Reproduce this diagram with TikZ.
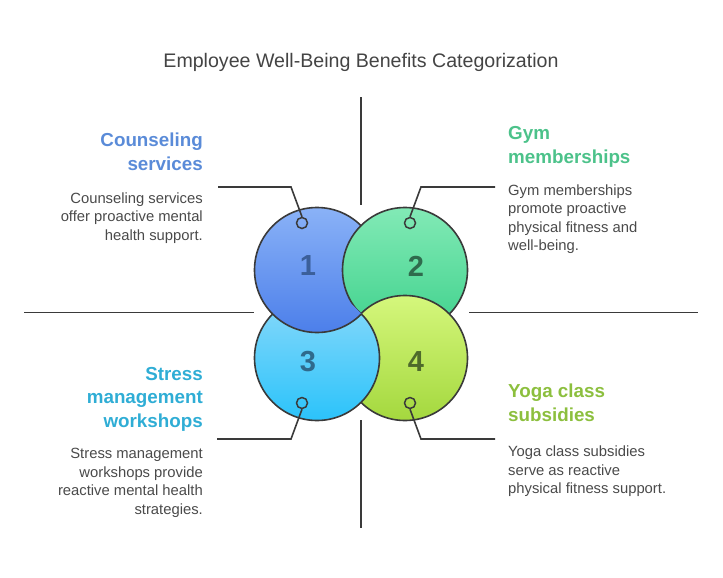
\documentclass[tikz,border=0pt]{standalone}
\usepackage{fontspec}
\setmainfont{Liberation Sans}
\definecolor{linec}{HTML}{3A3A3A}
\definecolor{titlec}{HTML}{444444}
\definecolor{descc}{HTML}{4A4A4A}
\definecolor{oneT}{HTML}{8AB2F7}\definecolor{oneB}{HTML}{4C7FEA}
\definecolor{twoT}{HTML}{82EAB6}\definecolor{twoB}{HTML}{3FD18C}
\definecolor{thrT}{HTML}{8AD9FA}\definecolor{thrB}{HTML}{2BC3FA}
\definecolor{fouT}{HTML}{D5F77C}\definecolor{fouB}{HTML}{A4D83E}
\definecolor{oneN}{HTML}{3B5F9A}\definecolor{twoN}{HTML}{2F6B4D}
\definecolor{thrN}{HTML}{2F6A8C}\definecolor{fouN}{HTML}{4E6A2B}
\definecolor{oneH}{HTML}{5A8BD8}\definecolor{twoH}{HTML}{4CC28A}
\definecolor{thrH}{HTML}{2FADD5}\definecolor{fouH}{HTML}{8CBF3E}
\begin{document}
\begin{tikzpicture}[x=1pt,y=-1pt,
  conn/.style={draw=linec,line width=1.6pt},
  bord/.style={draw=linec,line width=1.6pt},
  marker/.style={circle,draw=linec,line width=1.5pt,minimum size=11pt,inner sep=0pt},
  num/.style={font=\fontsize{29}{29}\selectfont\bfseries},
  head/.style={font=\fontsize{18.8}{23.5}\selectfont\bfseries,inner sep=0pt},
  desc/.style={font=\fontsize{14.8}{18.5}\selectfont,text=descc,inner sep=0pt}]
\useasboundingbox (0,0) rectangle (723,578);
% title
\node[anchor=base,font=\fontsize{19.6}{23}\selectfont,text=titlec,inner sep=0pt] (title) at (361,68) {Employee Well-Being Benefits Categorization};
% axes
\coordinate (vt1) at (361,97); \coordinate (vt2) at (361,205);
\coordinate (vb1) at (361,420); \coordinate (vb2) at (361,528);
\coordinate (hl1) at (24,312.5); \coordinate (hl2) at (254,312.5);
\coordinate (hr1) at (469,312.5); \coordinate (hr2) at (698,312.5);
\draw[conn] (vt1) -- (vt2);
\draw[conn] (vb1) -- (vb2);
\draw[conn] (hl1) -- (hl2);
\draw[conn] (hr1) -- (hr2);
% circles
\def\R{62.5}
\coordinate (c1) at (317,270);
\coordinate (c2) at (405,270);
\coordinate (c3) at (317,358);
\coordinate (c4) at (405,358);
\path[top color=oneT,bottom color=oneB,bord] (c1) circle (\R);
\path[top color=twoT,bottom color=twoB,bord] (c2) circle (\R);
\path[top color=fouT,bottom color=fouB,bord] (c4) circle (\R);
\path[top color=thrT,bottom color=thrB,bord] (c3) circle (\R);
\begin{scope}
  \clip (c3) circle (\R+2.5);
  \clip (200,152.5) -- (420,372.5) -- (200,372.5) -- cycle;
  \path[top color=oneT,bottom color=oneB,bord] (c1) circle (\R);
\end{scope}
% numbers
\node[num,text=oneN] (n1) at (308,266) {1};
\node[num,text=twoN] (n2) at (416,266) {2};
\node[num,text=thrN] (n3) at (308,361.5) {3};
\node[num,text=fouN] (n4) at (416,361.5) {4};
% markers
\node[marker] (m1) at (302,223) {};
\node[marker] (m2) at (410,223) {};
\node[marker] (m3) at (302,403) {};
\node[marker] (m4) at (410,403) {};
\coordinate (k1) at (291,187); \coordinate (e1) at (218,187);
\coordinate (k2) at (421,187); \coordinate (e2) at (495,187);
\coordinate (k3) at (291,439); \coordinate (e3) at (217,439);
\coordinate (k4) at (421,439); \coordinate (e4) at (495,439);
\draw[conn] (m1.north) -- (k1) -- (e1);
\draw[conn] (m2.north) -- (k2) -- (e2);
\draw[conn] (m3.south) -- (k3) -- (e3);
\draw[conn] (m4.south) -- (k4) -- (e4);
% texts
\node[head,text=oneH,anchor=north east,align=right] (h1) at (203,133) {Counseling\\services};
\node[desc,anchor=north east,align=right] (d1) at (203,192.3) {Counseling services\\offer proactive mental\\health support.};
\node[head,text=twoH,anchor=north west,align=left] (h2) at (508,126.3) {Gym\\memberships};
\node[desc,anchor=north west,align=left] (d2) at (508,184.3) {Gym memberships\\promote proactive\\physical fitness and\\well-being.};
\node[head,text=thrH,anchor=north east,align=right] (h3) at (203,366.8) {Stress\\management\\workshops};
\node[desc,anchor=north east,align=right] (d3) at (203,448) {Stress management\\workshops provide\\reactive mental health\\strategies.};
\node[head,text=fouH,anchor=north west,align=left] (h4) at (508,384) {Yoga class\\subsidies};
\node[desc,anchor=north west,align=left] (d4) at (508,446) {Yoga class subsidies\\serve as reactive\\physical fitness support.};
\end{tikzpicture}
\end{document}
